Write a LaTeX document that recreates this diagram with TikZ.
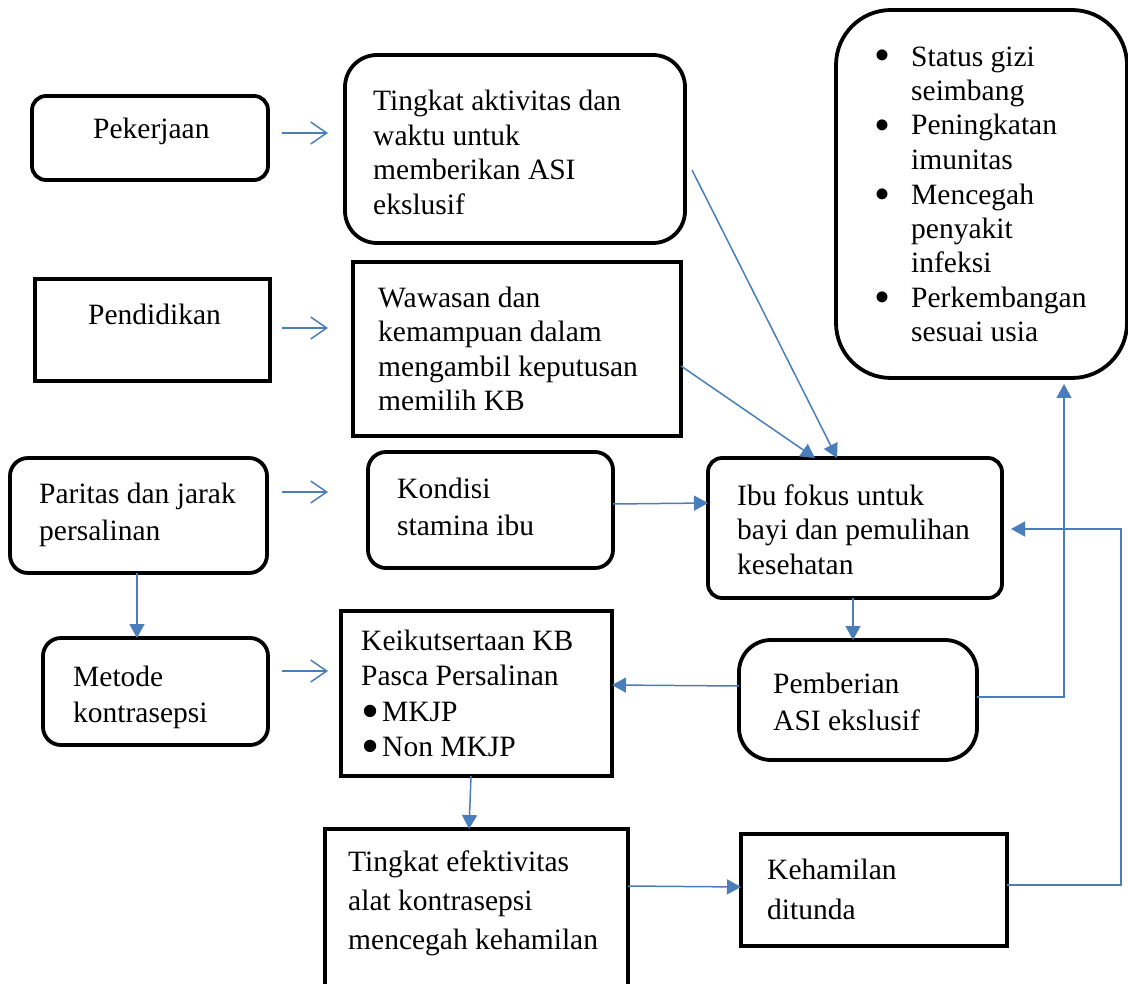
\documentclass[tikz,border=0pt]{standalone}
\usepackage{fontspec}
\setmainfont{Liberation Serif}
\usetikzlibrary{arrows.meta,calc}
\definecolor{arrowblue}{RGB}{74,126,187}
\newcommand{\bigdot}{\raisebox{-5pt}{\scalebox{1.55}{\textbullet}}}
\newcommand{\kbdot}{\raisebox{-7pt}{\scalebox{1.75}{\textbullet}}}
\begin{document}
\begin{tikzpicture}[x=1pt,y=-1pt,
 box/.style={draw, line width=3.8pt, inner sep=0pt, outer sep=0pt, fill=white},
 rbox/.style={box, rounded corners=#1},
 txt/.style={anchor=base west, align=left, inner sep=0pt, font=\fontsize{29.5}{34.5}\selectfont},
 conn/.style={draw=arrowblue, line width=1.5pt, -{Triangle[length=14pt,width=15pt]}},
 openarr/.style={draw=arrowblue, line width=1.5pt, -{Straight Barb[length=16pt,width=22pt]}}]
\useasboundingbox (0,0) rectangle (1128,984);

% boxes
\node[rbox=14pt, minimum width=236pt, minimum height=84pt] (pek) at (150,138) {};
\node[rbox=32pt, minimum width=340pt, minimum height=188pt] (tingkat) at (515,149) {};
\node[box, minimum width=235pt, minimum height=102pt] (pend) at (152.5,330) {};
\node[box, minimum width=328pt, minimum height=174pt] (waw) at (517,349) {};
\node[rbox=18pt, minimum width=257pt, minimum height=115pt] (paritas) at (138.5,515.5) {};
\node[rbox=18pt, minimum width=245pt, minimum height=116pt] (kondisi) at (490.5,510) {};
\node[rbox=14pt, minimum width=294pt, minimum height=140pt] (ibu) at (855,528) {};
\node[rbox=55pt, minimum width=291pt, minimum height=368pt] (hasil) at (981.5,194) {};
\node[rbox=18pt, minimum width=225pt, minimum height=107pt] (metode) at (155.5,691.5) {};
\node[box, minimum width=271pt, minimum height=165pt] (keik) at (476.5,693.5) {};
\node[rbox=32pt, minimum width=238pt, minimum height=120pt] (pemb) at (858,700) {};
\node[box, minimum width=303pt, minimum height=171pt] (efek) at (476.5,914.5) {};
\node[box, minimum width=266pt, minimum height=112pt] (keham) at (874,890) {};

% texts (anchor = baseline of the last line)
\node[txt] (tpek) at (93,139) {Pekerjaan};
\node[txt] (ttingkat) at (373,214.5) {Tingkat aktivitas dan\\waktu untuk\\memberikan ASI\\ekslusif};
\node[txt] (tpend) at (88,325) {Pendidikan};
\node[txt] (twaw) at (378,410.5) {Wawasan dan\\kemampuan dalam\\mengambil keputusan\\memilih KB};
\node[txt, font=\fontsize{29.5}{37}\selectfont] (tparitas) at (39,540) {Paritas dan jarak\\persalinan};
\node[txt, font=\fontsize{29.5}{37}\selectfont] (tkondisi) at (397,535) {Kondisi\\stamina ibu};
\node[txt] (tibu) at (737,574) {Ibu fokus untuk\\bayi dan pemulihan\\kesehatan};
\node[txt] (thasil) at (874,342) {\makebox[37pt][l]{\bigdot}Status gizi\\\hspace*{37pt}seimbang\\
 \makebox[37pt][l]{\bigdot}Peningkatan\\\hspace*{37pt}imunitas\\
 \makebox[37pt][l]{\bigdot}Mencegah\\\hspace*{37pt}penyakit\\\hspace*{37pt}infeksi\\
 \makebox[37pt][l]{\bigdot}Perkembangan\\\hspace*{37pt}sesuai usia};
\node[txt, font=\fontsize{29.5}{36}\selectfont] (tmetode) at (73,722) {Metode\\kontrasepsi};
\node[txt, font=\fontsize{29.5}{35.5}\selectfont] (tkeik) at (361,756.5) {Keikutsertaan KB\\Pasca Persalinan\\\makebox[21pt][l]{\kbdot}MKJP\\\makebox[21pt][l]{\kbdot}Non MKJP};
\node[txt, font=\fontsize{29.5}{37}\selectfont] (tpemb) at (773,730) {Pemberian\\ASI ekslusif};
\node[txt, font=\fontsize{29.5}{39}\selectfont] (tefek) at (348,949) {Tingkat efektivitas\\alat kontrasepsi\\mencegah kehamilan};
\node[txt, font=\fontsize{29.5}{40}\selectfont] (tkeham) at (767,919) {Kehamilan\\ditunda};

% open arrows
\draw[openarr] ($(pek.east)+(14,-5)$) -- ($(tingkat.west)+(-17,-16)$);
\draw[openarr] ($(pend.east)+(12,-2)$) -- ($(waw.west)+(-25,-21)$);
\draw[openarr] ($(paritas.east)+(15,-23.5)$) -- ($(kondisi.west)+(-40,-18)$);
\draw[openarr] ($(metode.east)+(14,-20.5)$) -- ($(keik.west)+(-13,-22.5)$);

% connectors
\draw[conn] ($(tingkat.east)+(7,21)$) -- (ibu.north -| 837,0);
\draw[conn] ($(waw.east)+(0,17)$) -- (ibu.north -| 815,0);
\draw[conn] (kondisi.east |- 0,504) -- (ibu.west |- 0,503);
\draw[conn] (paritas.south -| 137,0) -- (metode.north -| 137,0);
\draw[conn] (ibu.south -| 853,0) -- (pemb.north -| 853,0);
\draw[conn] (pemb.west |- 0,686) -- (keik.east |- 0,685);
\draw[conn, shorten >=6pt] (pemb.east |- 0,697) -| (hasil.south -| 1064,0);
\draw[conn] (keik.south -| 471,0) -- (efek.north -| 469,0);
\draw[conn] (efek.east |- 0,886) -- (keham.west |- 0,887);
\draw[conn, shorten >=9pt] (keham.east |- 0,885) -| (1121,529) -- (ibu.east |- 0,529);
\end{tikzpicture}
\end{document}
